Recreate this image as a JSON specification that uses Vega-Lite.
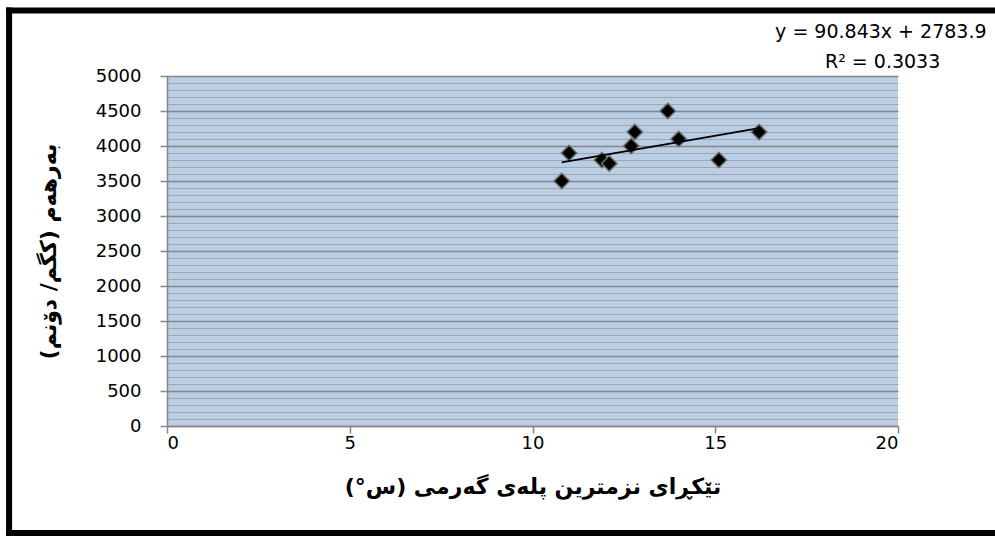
{
  "$schema": "https://vega.github.io/schema/vega-lite/v6.json",
  "width": 731,
  "height": 350,
  "autosize": "none",
  "padding": {"left": 167, "top": 76, "right": 97, "bottom": 111},
  "background": "white",
  "config": {
    "view": {"fill": "#b9cde5", "stroke": null},
    "axis": {
      "labelFont": "DejaVu Sans",
      "labelFontSize": 18,
      "labelColor": "#000000",
      "titleFont": "DejaVu Sans",
      "titleFontWeight": "bold",
      "titleFontSize": 22,
      "titleColor": "#000000"
    }
  },
  "datasets": {
    "points": [
      {"temp": 10.8, "yield": 3500},
      {"temp": 11.0, "yield": 3900},
      {"temp": 11.9, "yield": 3800},
      {"temp": 12.1, "yield": 3750},
      {"temp": 12.7, "yield": 4000},
      {"temp": 12.8, "yield": 4200},
      {"temp": 13.7, "yield": 4500},
      {"temp": 14.0, "yield": 4100},
      {"temp": 15.1, "yield": 3800},
      {"temp": 16.2, "yield": 4200}
    ],
    "trend": [
      {"temp": 10.8, "yield": 3765},
      {"temp": 16.2, "yield": 4256}
    ],
    "one": [{}]
  },
  "layer": [
    {
      "data": {"name": "trend"},
      "mark": {"type": "line", "opacity": 0},
      "encoding": {
        "x": {"field": "temp", "type": "quantitative", "scale": {"domain": [0, 20], "nice": false}},
        "y": {
          "field": "yield", "type": "quantitative",
          "scale": {"domain": [0, 5000], "nice": false},
          "axis": {
            "orient": "left",
            "values": [100,200,300,400,600,700,800,900,1100,1200,1300,1400,1600,1700,1800,1900,2100,2200,2300,2400,2600,2700,2800,2900,3100,3200,3300,3400,3600,3700,3800,3900,4100,4200,4300,4400,4600,4700,4800,4900],
            "grid": true, "gridColor": "#a6a6a6", "gridWidth": 1.2,
            "labels": false, "ticks": false, "domain": false, "title": null
          }
        }
      }
    },
    {
      "data": {"name": "points"},
      "mark": {"type": "point", "shape": "diamond", "filled": true, "fill": "#000000", "stroke": "#6e6e6e", "strokeWidth": 1.5, "size": 240, "opacity": 1},
      "encoding": {
        "x": {
          "field": "temp", "type": "quantitative",
          "scale": {"domain": [0, 20], "nice": false},
          "axis": {
            "values": [0, 5, 10, 15, 20], "grid": false, "format": "d",
            "domainColor": "#868686", "domainWidth": 1.5,
            "tickColor": "#868686", "tickWidth": 1.5, "tickSize": 7,
            "labelPadding": 1, "titlePadding": 24,
            "title": "تێکڕای نزمترین پلەی گەرمی (س°)"
          }
        },
        "y": {
          "field": "yield", "type": "quantitative",
          "scale": {"domain": [0, 5000], "nice": false},
          "axis": {
            "orient": "left", "format": "d",
            "values": [0, 500, 1000, 1500, 2000, 2500, 3000, 3500, 4000, 4500, 5000],
            "grid": true, "gridColor": "#868686", "gridWidth": 1.5,
            "domainColor": "#868686", "domainWidth": 1.5,
            "tickColor": "#868686", "tickWidth": 1.5, "tickSize": 7,
            "labelPadding": 19, "titlePadding": 35,
            "title": "بەرهەم (کگم/ دۆنم)"
          }
        }
      }
    },
    {
      "data": {"name": "trend"},
      "mark": {"type": "line", "color": "#000000", "strokeWidth": 1.8},
      "encoding": {
        "x": {"field": "temp", "type": "quantitative"},
        "y": {"field": "yield", "type": "quantitative", "axis": null}
      }
    },
    {
      "data": {"name": "one"},
      "mark": {"type": "text", "font": "DejaVu Sans", "fontSize": 19, "color": "#000000", "align": "center", "baseline": "middle"},
      "encoding": {
        "x": {"datum": 19.53, "type": "quantitative"},
        "y": {"datum": 5629, "type": "quantitative", "axis": null},
        "text": {"value": "y = 90.843x + 2783.9"}
      }
    },
    {
      "data": {"name": "one"},
      "mark": {"type": "text", "font": "DejaVu Sans", "fontSize": 19, "color": "#000000", "align": "center", "baseline": "middle"},
      "encoding": {
        "x": {"datum": 19.58, "type": "quantitative"},
        "y": {"datum": 5200, "type": "quantitative", "axis": null},
        "text": {"value": "R² = 0.3033"}
      }
    },
    {
      "data": {"name": "one"},
      "mark": {"type": "rule", "color": "#000000", "strokeWidth": 6, "strokeCap": "square"},
      "encoding": {
        "x": {"datum": -4.32, "type": "quantitative"},
        "x2": {"datum": 32},
        "y": {"datum": 5936, "type": "quantitative", "axis": null}
      }
    },
    {
      "data": {"name": "one"},
      "mark": {"type": "rule", "color": "#000000", "strokeWidth": 6, "strokeCap": "square"},
      "encoding": {
        "x": {"datum": -4.32, "type": "quantitative"},
        "y": {"datum": 5936, "type": "quantitative", "axis": null},
        "y2": {"datum": -1530}
      }
    },
    {
      "data": {"name": "one"},
      "mark": {"type": "rule", "color": "#000000", "strokeWidth": 6, "strokeCap": "square"},
      "encoding": {
        "x": {"datum": -4.32, "type": "quantitative"},
        "x2": {"datum": 32},
        "y": {"datum": -1530, "type": "quantitative", "axis": null}
      }
    }
  ],
  "resolve": {"axis": {"y": "independent"}}
}
